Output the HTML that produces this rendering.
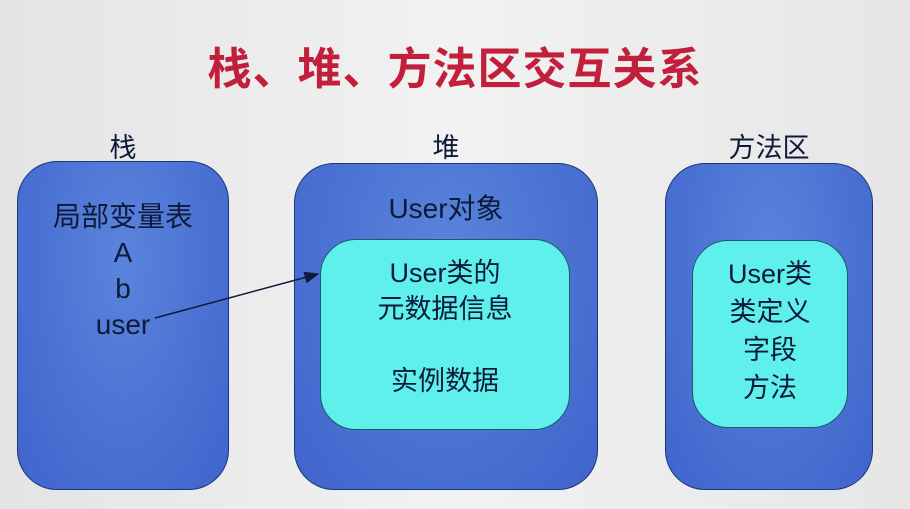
<!DOCTYPE html>
<html><head><meta charset="utf-8"><style>
html,body{margin:0;padding:0}
body{width:910px;height:509px;position:relative;overflow:hidden;background:linear-gradient(90deg,#e4e4e4,#f2f2f2 50%,#e6e6e6);font-family:"Liberation Sans","Noto Sans CJK SC",sans-serif;color:#0e1a3a}
.t{position:absolute;text-align:center;white-space:nowrap}
.box{position:absolute;background:radial-gradient(ellipse at 50% 30%,#5a84dc,#3f64cc);border:1.5px solid #1e3578;border-radius:40px;box-sizing:border-box}
.in{position:absolute;background:#5ff0ec;border:1.5px solid #1e5a6a;border-radius:36px;box-sizing:border-box}
</style></head><body>
<div class="t" style="left:0;width:910px;top:33px;font-size:44px;font-weight:bold;color:#c21f3c;letter-spacing:1px">栈、堆、方法区交互关系</div>
<div class="t" style="left:17px;width:212px;top:126px;font-size:27px">栈</div>
<div class="t" style="left:294px;width:304px;top:126px;font-size:27px">堆</div>
<div class="t" style="left:665px;width:208px;top:126px;font-size:27px">方法区</div>
<div class="box" style="left:17px;top:161px;width:212px;height:329px"></div>
<div class="box" style="left:294px;top:163px;width:304px;height:327px"></div>
<div class="box" style="left:665px;top:163px;width:208px;height:327px"></div>
<div class="in" style="left:320px;top:239px;width:250px;height:191px"></div>
<div class="in" style="left:692px;top:240px;width:156px;height:188px"></div>
<div class="t" style="left:17px;width:212px;top:199px;font-size:28px;line-height:36px">局部变量表<br>A<br>b<br>user</div>
<div class="t" style="left:294px;width:304px;top:187px;font-size:28px">User对象</div>
<div class="t" style="left:320px;width:250px;top:255px;font-size:27px;line-height:36px">User类的<br>元数据信息<br><br>实例数据</div>
<div class="t" style="left:692px;width:156px;top:255px;font-size:27px;line-height:38px">User类<br>类定义<br>字段<br>方法</div>
<svg width="910" height="509" style="position:absolute;left:0;top:0">
<defs><marker id="a" markerWidth="10" markerHeight="8" refX="9" refY="4" orient="auto"><path d="M0,0L10,4L0,8z" fill="#0e1a3a"/></marker></defs>
<line x1="155" y1="318" x2="318" y2="274" stroke="#0e1a3a" stroke-width="1.5" marker-end="url(#a)"/>
</svg>
</body></html>
